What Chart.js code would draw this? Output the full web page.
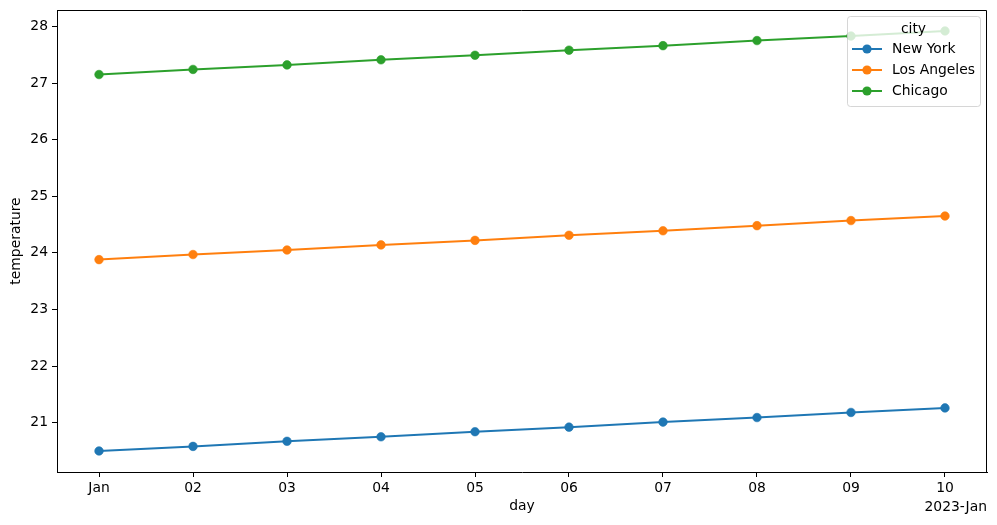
<!DOCTYPE html>
<html>
<head>
<meta charset="utf-8">
<script src="https://cdn.jsdelivr.net/npm/chart.js@4"></script>
<style>
  body { margin: 0; background: #fff; }
  #wrap { width: 997px; height: 525px; }
</style>
</head>
<body>
<div id="wrap"><canvas id="tempChart" width="997" height="525"></canvas></div>
<script>
// data
const dayLabels = ["Jan", "02", "03", "04", "05", "06", "07", "08", "09", "10"];
const cityNames = ["New York", "Los Angeles", "Chicago"];
const cityColors = ["#1f77b4", "#ff7f0e", "#2ca02c"];
const newYork = [20.50, 20.58, 20.67, 20.75, 20.84, 20.92, 21.01, 21.09, 21.18, 21.26];
const losAngeles = [23.88, 23.97, 24.05, 24.14, 24.22, 24.31, 24.39, 24.48, 24.57, 24.65];
const chicago = [27.15, 27.24, 27.32, 27.41, 27.49, 27.58, 27.66, 27.75, 27.83, 27.92];
const yTicks = [21, 22, 23, 24, 25, 26, 27, 28];
const offsetText = "2023-Jan";

const FONT = "'DejaVu Sans', sans-serif";
Chart.defaults.font.family = FONT;
Chart.defaults.color = "#000";

const seriesValues = [newYork, losAngeles, chicago];

const datasets = seriesValues.map((vals, i) => ({
  label: cityNames[i],
  data: vals.map((v, d) => ({ x: d, y: v })),
  borderColor: cityColors[i],
  backgroundColor: cityColors[i],
  borderWidth: 2,
  pointRadius: 4.3,
  pointBorderWidth: 0.6,
  pointBackgroundColor: cityColors[i],
  pointBorderColor: cityColors[i],
  tension: 0,
  clip: false
}));

// top/right frame, offset text and the legend box (drawn inside the plot like matplotlib)
const extrasPlugin = {
  id: "extras",
  afterDraw(chart) {
    const { ctx, chartArea: a } = chart;
    ctx.save();
    ctx.strokeStyle = "#000";
    ctx.lineWidth = 1;
    ctx.beginPath();
    ctx.moveTo(a.left, a.top + 0.5);
    ctx.lineTo(a.right - 0.5, a.top + 0.5);
    ctx.lineTo(a.right - 0.5, a.bottom);
    ctx.stroke();

    ctx.font = "13.9px " + FONT;
    ctx.fillStyle = "#000";
    ctx.textAlign = "right";
    ctx.textBaseline = "middle";
    ctx.fillText(offsetText, a.right, 507);

    // legend
    const bx = 847, by = 16, bw = 133, bh = 90;
    ctx.fillStyle = "rgba(255,255,255,0.8)";
    ctx.strokeStyle = "rgba(204,204,204,0.8)";
    ctx.beginPath();
    ctx.roundRect(bx + 0.5, by + 0.5, bw, bh, 3);
    ctx.fill();
    ctx.stroke();

    ctx.fillStyle = "#000";
    ctx.textAlign = "center";
    ctx.fillText("city", bx + bw / 2, 29);
    ctx.textAlign = "left";
    cityNames.forEach((name, i) => {
      const y = 49 + i * 21;
      ctx.strokeStyle = cityColors[i];
      ctx.lineWidth = 2;
      ctx.beginPath();
      ctx.moveTo(852, y);
      ctx.lineTo(882, y);
      ctx.stroke();
      ctx.fillStyle = cityColors[i];
      ctx.beginPath();
      ctx.arc(867, y, 4.6, 0, Math.PI * 2);
      ctx.fill();
      ctx.fillStyle = "#000";
      ctx.fillText(name, 892, y);
    });
    ctx.restore();
  }
};

new Chart(document.getElementById("tempChart"), {
  type: "line",
  data: { datasets: datasets },
  plugins: [extrasPlugin],
  options: {
    responsive: false,
    animation: false,
    layout: { padding: { top: 10, right: 10, left: 0, bottom: 0 } },
    plugins: {
      legend: { display: false },
      tooltip: { enabled: false }
    },
    scales: {
      x: {
        type: "linear",
        min: -0.447,
        max: 9.447,
        afterBuildTicks: s => { s.ticks = dayLabels.map((_, i) => ({ value: i })); },
        afterFit: s => { s.height = 53; s.paddingLeft = 0; s.paddingRight = 0; },
        grid: { display: true, drawOnChartArea: false, drawTicks: true, tickLength: 5, color: "#000" },
        border: { display: true, color: "#000", width: 1 },
        ticks: {
          font: { size: 13.9 },
          padding: 3,
          maxRotation: 0,
          autoSkip: false,
          callback: v => dayLabels[v]
        },
        title: { display: true, text: "day", font: { size: 13.9 }, padding: { top: 0, bottom: 10 } }
      },
      y: {
        type: "linear",
        min: 20.128,
        max: 28.29,
        afterBuildTicks: s => { s.ticks = yTicks.map(v => ({ value: v })); },
        afterFit: s => { s.width = 57; s.paddingTop = 0; s.paddingBottom = 0; },
        grid: { display: true, drawOnChartArea: false, drawTicks: true, tickLength: 5, color: "#000" },
        border: { display: true, color: "#000", width: 1 },
        ticks: { font: { size: 13.9 }, padding: 4 },
        title: { display: true, text: "temperature", font: { size: 13.9 }, padding: { top: 8, bottom: 0 } }
      }
    }
  }
});
</script>
</body>
</html>
